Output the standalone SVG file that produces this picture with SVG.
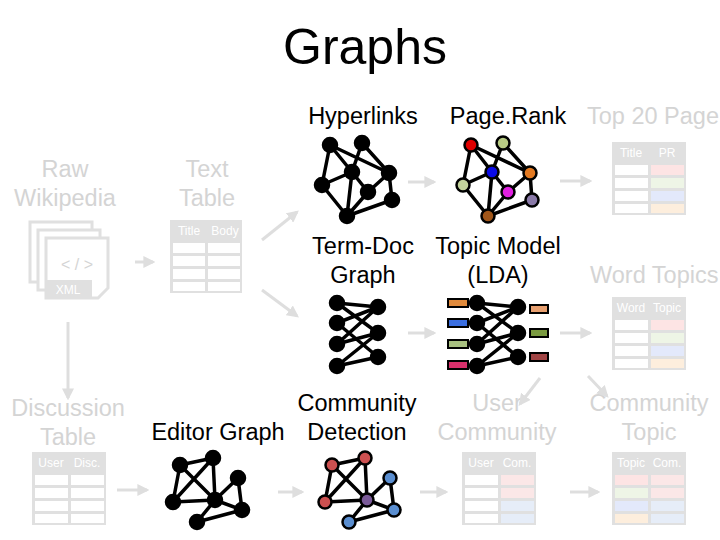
<svg xmlns="http://www.w3.org/2000/svg" width="720" height="540" viewBox="0 0 720 540">
<defs>
<style>
text{font-family:"Liberation Sans",Arial,sans-serif}
.t{font-size:23.5px;fill:#000;text-anchor:middle}
.g{font-size:23.5px;fill:#d4d4d4;text-anchor:middle}
.h{font-size:12px;fill:#fff;text-anchor:middle}
.e{stroke:#000;stroke-width:3.5;fill:none}
.n{stroke:#000;stroke-width:2.5}
.a{stroke:#dedede;stroke-width:3;fill:none;marker-end:url(#ah)}
.tb{fill:#e0e0e0}
</style>
<marker id="ah" viewBox="0 0 10 10" refX="8" refY="5" markerWidth="4" markerHeight="4" orient="auto"><path d="M0,0L10,5L0,10z" fill="#dedede"/></marker>
</defs>
<rect width="720" height="540" fill="#fff"/>
<text x="365" y="64" font-size="50" text-anchor="middle" font-family="Liberation Sans,Arial,sans-serif">Graphs</text>

<g id="labels">
<text class="t" x="363" y="124">Hyperlinks</text>
<text class="t" x="508" y="124">Page.Rank</text>
<text class="g" x="587" y="124" text-anchor="start" style="text-anchor:start">Top 20 Page</text>
<text class="g" x="65" y="177">Raw</text><text class="g" x="65" y="206">Wikipedia</text>
<text class="g" x="207" y="177">Text</text><text class="g" x="207" y="206">Table</text>
<text class="t" x="363" y="254">Term-Doc</text><text class="t" x="363" y="283">Graph</text>
<text class="t" x="498" y="254">Topic Model</text><text class="t" x="498" y="283">(LDA)</text>
<text class="g" x="590" y="283" style="text-anchor:start">Word Topics</text>
<text class="g" x="68" y="416">Discussion</text><text class="g" x="68" y="445">Table</text>
<text class="t" x="218" y="440">Editor Graph</text>
<text class="t" x="357" y="411">Community</text><text class="t" x="357" y="440">Detection</text>
<text class="g" x="497" y="411">User</text><text class="g" x="497" y="440">Community</text>
<text class="g" x="649" y="411">Community</text><text class="g" x="649" y="440">Topic</text>
</g>

<g id="xml">
<rect x="30" y="222" width="62" height="60" fill="#fff" stroke="#e0e0e0" stroke-width="3"/>
<rect x="38" y="230" width="62" height="60" fill="#fff" stroke="#e0e0e0" stroke-width="3"/>
<path d="M46,238h62v50l-10,10h-52z" fill="#fff" stroke="#e0e0e0" stroke-width="3"/>
<rect x="46" y="280" width="46" height="18" fill="#e0e0e0"/>
<text x="68" y="294" class="h">XML</text>
<text x="77" y="270" font-size="16" fill="#d4d4d4" text-anchor="middle">&lt; / &gt;</text>
</g>

<g id="tables">
<g id="t-body"><rect class="tb" x="170" y="220" width="72" height="73"/><text class="h" x="189" y="235">Title</text><text class="h" x="225" y="235">Body</text>
<g fill="#fff"><rect x="173" y="243" width="32" height="10"/><rect x="208" y="243" width="32" height="10"/><rect x="173" y="256" width="32" height="10"/><rect x="208" y="256" width="32" height="10"/><rect x="173" y="269" width="32" height="10"/><rect x="208" y="269" width="32" height="10"/><rect x="173" y="282" width="32" height="9"/><rect x="208" y="282" width="32" height="9"/></g></g>
<g id="t-pr"><rect class="tb" x="612" y="142" width="74" height="73"/><text class="h" x="631" y="157">Title</text><text class="h" x="667" y="157">PR</text>
<rect x="615" y="165" width="33" height="10" fill="#fff"/><rect x="651" y="165" width="33" height="10" fill="#fde4e4"/>
<rect x="615" y="178" width="33" height="10" fill="#fff"/><rect x="651" y="178" width="33" height="10" fill="#eef5e6"/>
<rect x="615" y="191" width="33" height="10" fill="#fff"/><rect x="651" y="191" width="33" height="10" fill="#e3e9fb"/>
<rect x="615" y="204" width="33" height="9" fill="#fff"/><rect x="651" y="204" width="33" height="9" fill="#fdeedd"/></g>
<g id="t-word"><rect class="tb" x="612" y="297" width="74" height="73"/><text class="h" x="631" y="312">Word</text><text class="h" x="667" y="312">Topic</text>
<rect x="615" y="320" width="33" height="10" fill="#fff"/><rect x="651" y="320" width="33" height="10" fill="#fde4e4"/>
<rect x="615" y="333" width="33" height="10" fill="#fff"/><rect x="651" y="333" width="33" height="10" fill="#eef5e6"/>
<rect x="615" y="346" width="33" height="10" fill="#fff"/><rect x="651" y="346" width="33" height="10" fill="#e3e9fb"/>
<rect x="615" y="359" width="33" height="9" fill="#fff"/><rect x="651" y="359" width="33" height="9" fill="#fdeedd"/></g>
<g id="t-disc"><rect class="tb" x="32" y="452" width="74" height="73"/><text class="h" x="51" y="467">User</text><text class="h" x="87" y="467">Disc.</text>
<g fill="#fff"><rect x="35" y="475" width="33" height="10"/><rect x="71" y="475" width="33" height="10"/><rect x="35" y="488" width="33" height="10"/><rect x="71" y="488" width="33" height="10"/><rect x="35" y="501" width="33" height="10"/><rect x="71" y="501" width="33" height="10"/><rect x="35" y="514" width="33" height="9"/><rect x="71" y="514" width="33" height="9"/></g></g>
<g id="t-ucom"><rect class="tb" x="462" y="452" width="74" height="73"/><text class="h" x="481" y="467">User</text><text class="h" x="517" y="467">Com.</text>
<rect x="465" y="475" width="33" height="10" fill="#fff"/><rect x="501" y="475" width="33" height="10" fill="#fbe7e7"/>
<rect x="465" y="488" width="33" height="10" fill="#fff"/><rect x="501" y="488" width="33" height="10" fill="#fbe7e7"/>
<rect x="465" y="501" width="33" height="10" fill="#fff"/><rect x="501" y="501" width="33" height="10" fill="#e6edf8"/>
<rect x="465" y="514" width="33" height="9" fill="#fff"/><rect x="501" y="514" width="33" height="9" fill="#e6edf8"/></g>
<g id="t-tcom"><rect class="tb" x="612" y="452" width="74" height="73"/><text class="h" x="631" y="467">Topic</text><text class="h" x="667" y="467">Com.</text>
<rect x="615" y="475" width="33" height="10" fill="#fde4e4"/><rect x="651" y="475" width="33" height="10" fill="#fbe7e7"/>
<rect x="615" y="488" width="33" height="10" fill="#eef5e6"/><rect x="651" y="488" width="33" height="10" fill="#fbe7e7"/>
<rect x="615" y="501" width="33" height="10" fill="#e3e9fb"/><rect x="651" y="501" width="33" height="10" fill="#e6edf8"/>
<rect x="615" y="514" width="33" height="9" fill="#fdeedd"/><rect x="651" y="514" width="33" height="9" fill="#e6edf8"/></g>
</g>

<g id="connectors">
<path class="a" d="M135,262H153"/>
<path class="a" d="M262,240L297,212"/>
<path class="a" d="M262,290L297,316"/>
<path class="a" d="M408,182H434"/>
<path class="a" d="M560,181H590"/>
<path class="a" d="M408,333H434"/>
<path class="a" d="M560,333H590"/>
<path class="a" d="M68,322V398"/>
<path class="a" d="M117,490H147"/>
<path class="a" d="M278,492H302"/>
<path class="a" d="M420,492H446"/>
<path class="a" d="M570,492H598"/>
<path class="a" d="M540,378L520,404"/>
<path class="a" d="M588,376L607,396"/>
</g>

<g id="hyperlinks">
<path class="e" d="M330,145L352,172M330,145L389,173M330,145L322,185M362,143L352,172M362,143L389,173M352,172L322,185M352,172L368,192M352,172L347,216M322,185L347,216M389,173L368,192M389,173L392,200M392,200L347,216M368,192L347,216"/>
<g class="n" fill="#000"><circle cx="330" cy="145" r="7"/><circle cx="362" cy="143" r="7"/><circle cx="352" cy="172" r="7"/><circle cx="322" cy="185" r="7"/><circle cx="389" cy="173" r="7"/><circle cx="368" cy="192" r="7"/><circle cx="392" cy="200" r="7"/><circle cx="347" cy="216" r="7"/></g>
</g>
<g id="pagerank">
<path class="e" d="M471,145L492,172M471,145L530,173M471,145L463,185M503,143L492,172M503,143L530,173M492,172L463,185M492,172L508,192M492,172L488,216M463,185L488,216M530,173L508,192M530,173L532,200M532,200L488,216M508,192L488,216"/>
<g class="n"><circle cx="471" cy="145" r="6.5" fill="#e00000"/><circle cx="503" cy="143" r="6.5" fill="#b8cc84"/><circle cx="492" cy="172" r="6.5" fill="#0a0ae6"/><circle cx="463" cy="185" r="6.5" fill="#c4d49c"/><circle cx="530" cy="173" r="6.5" fill="#e37a22"/><circle cx="508" cy="192" r="6.5" fill="#e020e0"/><circle cx="532" cy="200" r="6.5" fill="#8a7aa8"/><circle cx="488" cy="216" r="6.5" fill="#a0561a"/></g>
</g>
<g id="termdoc">
<path class="e" d="M337,303L378,307M337,303L378,333M337,323L378,307M337,323L378,357M337,344L378,307M337,344L378,333M337,366L378,333M337,366L378,357"/>
<g class="n" fill="#000"><circle cx="337" cy="303" r="7"/><circle cx="337" cy="323" r="7"/><circle cx="337" cy="344" r="7"/><circle cx="337" cy="366" r="7"/><circle cx="378" cy="307" r="7"/><circle cx="378" cy="333" r="7"/><circle cx="378" cy="357" r="7"/></g>
</g>
<g id="topicmodel">
<path class="e" d="M477,303L518,307M477,303L518,333M477,323L518,307M477,323L518,357M477,344L518,307M477,344L518,333M477,366L518,333M477,366L518,357"/>
<g class="n" fill="#000"><circle cx="477" cy="303" r="7"/><circle cx="477" cy="323" r="7"/><circle cx="477" cy="344" r="7"/><circle cx="477" cy="366" r="7"/><circle cx="518" cy="307" r="7"/><circle cx="518" cy="333" r="7"/><circle cx="518" cy="357" r="7"/></g>
<g stroke="#000" stroke-width="2"><rect x="448" y="299" width="20" height="8" fill="#e08a3c"/><rect x="448" y="319" width="20" height="8" fill="#3a6ee0"/><rect x="448" y="340" width="20" height="8" fill="#a8c080"/><rect x="448" y="361" width="20" height="8" fill="#d8306c"/>
<rect x="530" y="305" width="18" height="8" fill="#e8a070"/><rect x="530" y="329" width="18" height="8" fill="#7a9a40"/><rect x="530" y="353" width="18" height="8" fill="#a04444"/></g>
</g>
<g id="editor">
<path class="e" d="M180,465L213,458M180,465L173,502M180,465L215,500M213,458L173,502M213,458L215,500M173,502L215,500M215,500L238,478M238,478L242,510M215,500L242,510M242,510L197,522M215,500L197,522"/>
<g class="n" fill="#000"><circle cx="180" cy="465" r="7"/><circle cx="213" cy="458" r="7"/><circle cx="238" cy="478" r="7"/><circle cx="173" cy="502" r="7"/><circle cx="215" cy="500" r="7"/><circle cx="242" cy="510" r="7"/><circle cx="197" cy="522" r="7"/></g>
</g>
<g id="community">
<path class="e" d="M332,465L365,458M332,465L325,502M332,465L367,500M365,458L325,502M365,458L367,500M325,502L367,500M367,500L390,478M390,478L394,510M367,500L394,510M394,510L349,522M367,500L349,522"/>
<g class="n"><circle cx="332" cy="465" r="6.5" fill="#cc5050"/><circle cx="365" cy="458" r="6.5" fill="#cc5050"/><circle cx="390" cy="478" r="6.5" fill="#5a8ed0"/><circle cx="325" cy="502" r="6.5" fill="#cc5050"/><circle cx="367" cy="500" r="6.5" fill="#7a5a98"/><circle cx="394" cy="510" r="6.5" fill="#5a8ed0"/><circle cx="349" cy="522" r="6.5" fill="#5a8ed0"/></g>
</g>
</svg>
